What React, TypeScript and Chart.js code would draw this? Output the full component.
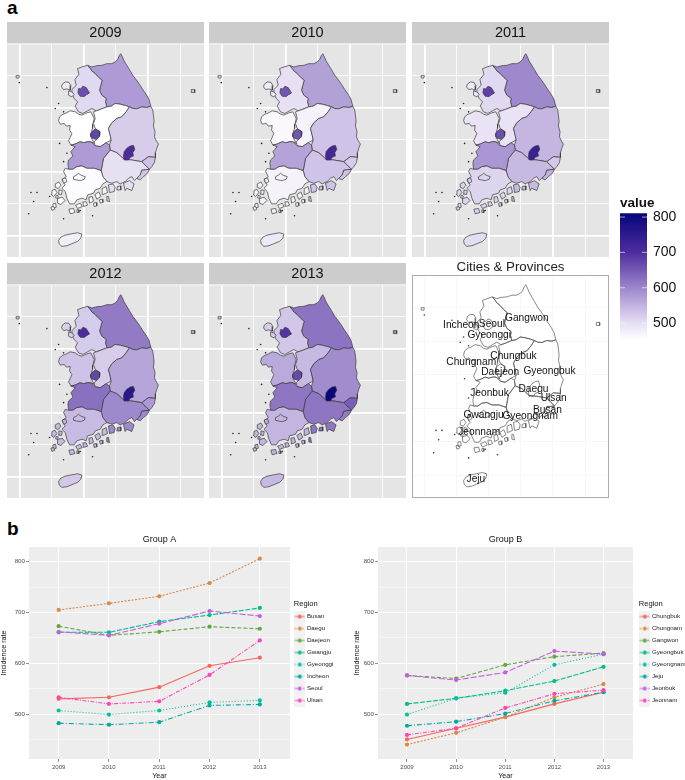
import React, { useEffect, useRef } from "react";
import { Chart, registerables } from "chart.js";
Chart.register(...registerables);

const FONT = '"Liberation Sans", Arial, sans-serif';

/* ---------- values ---------- */
const years = [2009, 2010, 2011, 2012, 2013];

const busan = [530, 533, 553, 595, 611];
const daegu = [705, 718, 732, 758, 806];
const daejeon = [673, 655, 662, 672, 668];
const gwangju = [661, 661, 682, 695, 709];
const gyeonggi = [507, 499, 507, 523, 527];
const incheon = [482, 479, 484, 517, 519];
const seoul = [662, 655, 678, 703, 693];
const ulsan = [533, 520, 525, 577, 645];

const chungbuk = [450, 472, 494, 520, 543];
const chungnam = [440, 463, 494, 533, 559];
const gangwon = [576, 570, 597, 613, 620];
const gyeongbuk = [520, 531, 546, 565, 593];
const gyeongnam = [499, 531, 542, 597, 618];
const jeju = [477, 485, 501, 526, 543];
const jeonbuk = [576, 567, 582, 624, 618];
const jeonnam = [459, 472, 512, 540, 547];

const groupANames = ["Busan", "Daegu", "Daejeon", "Gwangju", "Gyeonggi", "Incheon", "Seoul", "Ulsan"];
const groupAValues = [busan, daegu, daejeon, gwangju, gyeonggi, incheon, seoul, ulsan];
const groupBNames = ["Chungbuk", "Chungnam", "Gangwon", "Gyeongbuk", "Gyeongnam", "Jeju", "Jeonbuk", "Jeonnam"];
const groupBValues = [chungbuk, chungnam, gangwon, gyeongbuk, gyeongnam, jeju, jeonbuk, jeonnam];

const seriesColors = ["#F8665D", "#D8894A", "#62A83F", "#00BD8A", "#00C2A0", "#00AB9C", "#C45FE0", "#FF45B5"];
const seriesDashes = [[], [2, 1.5], [4, 2], [5, 1.5], [1, 2], [5, 2, 1, 2], [6, 2], [4, 1.5, 1, 1.5]];

const colorStops: [number, number[]][] = [
  [453, [255, 255, 255]],
  [500, [230, 223, 243]],
  [600, [156, 134, 203]],
  [700, [78, 45, 159]],
  [811, [5, 5, 122]],
];

/* ---------- map outlines, in map units ---------- */
type P = number[][];
const gangwonShape: P = [[262,195],[275,200],[290,196],[305,195],[320,190],[335,190],[345,185],[352,178],[358,165],[362,160],[367,170],[372,182],[380,195],[388,208],[398,225],[408,238],[418,252],[428,268],[438,282],[447,298],[452,318],[440,322],[425,320],[410,326],[398,325],[388,320],[375,316],[360,312],[345,310],[333,318],[320,320],[316,305],[318,295],[305,285],[298,270],[302,255],[306,240],[296,232],[285,220],[275,212],[270,205]];
const gyeonggiShape: P = [[232,205],[245,200],[262,195],[270,205],[275,212],[285,220],[296,232],[306,240],[302,255],[298,270],[305,285],[318,295],[316,305],[320,320],[300,328],[288,332],[275,325],[262,332],[248,340],[235,335],[225,318],[232,305],[222,295],[216,282],[215,268],[228,255],[224,238],[236,222]];
const incheonShapeA: P = [[186,252],[195,245],[206,246],[212,256],[210,270],[200,266],[190,268],[184,260]];
const incheonShapeB: P = [[205,272],[214,275],[222,282],[215,290],[205,285]];
const incheonShapeC: P = [[47,226],[57,226],[56,233],[48,233]];
const seoulShape: P = [[235,265],[242,266],[248,258],[258,262],[263,270],[268,278],[258,284],[252,289],[240,288],[233,278]];
const chungnamShape: P = [[195,340],[210,332],[225,335],[235,342],[245,345],[260,338],[272,335],[282,355],[278,372],[277,385],[272,400],[272,410],[282,430],[272,425],[262,425],[250,428],[240,425],[225,432],[212,435],[205,422],[210,412],[215,400],[208,390],[210,376],[198,378],[192,370],[180,372],[175,362],[178,350],[188,342]];
const chungbukShape: P = [[280,335],[288,332],[300,328],[320,320],[333,318],[345,310],[360,312],[375,316],[388,320],[378,335],[365,350],[350,355],[335,368],[325,385],[330,405],[333,420],[318,428],[300,440],[285,437],[282,425],[298,410],[300,395],[285,385],[280,370],[285,355]];
const daejeonShape: P = [[275,395],[285,387],[297,393],[298,408],[288,418],[275,414],[272,404]];
const gyeongbukShape: P = [[388,320],[398,325],[410,326],[425,320],[440,322],[452,318],[458,330],[460,345],[462,362],[460,378],[465,395],[463,410],[470,425],[475,432],[470,445],[466,458],[466,472],[445,470],[425,485],[395,480],[372,478],[350,458],[330,450],[328,435],[333,420],[330,405],[325,385],[335,368],[350,355],[365,350],[378,335]];
const gyeongbukIsle: P = [[574,268],[584,268],[584,277],[575,277]];
const daeguShape: P = [[372,455],[380,445],[390,438],[400,436],[404,448],[398,458],[400,468],[390,472],[385,480],[372,480],[370,468]];
const ulsanShape: P = [[445,470],[466,472],[463,488],[455,500],[448,508],[435,495],[425,485]];
const busanShape: P = [[448,508],[442,520],[430,530],[420,540],[410,535],[420,525],[425,510]];
const gyeongnamShape: P = [[330,450],[350,458],[372,478],[395,480],[425,485],[448,508],[425,510],[420,525],[410,535],[403,542],[395,530],[385,535],[375,545],[360,552],[350,545],[335,550],[320,545],[308,530],[303,512],[310,475]];
const gyeongnamIsleA: P = [[325,555],[338,552],[345,562],[342,575],[328,578]];
const gyeongnamIsleB: P = [[370,550],[388,542],[402,552],[395,572],[380,565],[375,572]];
const gyeongnamIsleC: P = [[352,560],[362,558],[362,570],[350,570]];
const gyeongnamIsleD: P = [[320,590],[325,590],[328,605],[320,603]];
const jeonbukShape: P = [[240,425],[250,428],[262,425],[272,425],[285,437],[300,440],[318,428],[328,435],[330,450],[310,475],[303,512],[282,505],[260,505],[245,498],[230,500],[218,508],[205,508],[203,490],[205,480],[218,468],[212,455],[225,440],[212,435],[225,432]];
const jeonnamShape: P = [[195,505],[205,508],[218,508],[230,500],[245,498],[260,505],[282,505],[303,512],[308,530],[320,545],[308,552],[300,565],[285,570],[280,580],[262,585],[258,600],[245,595],[230,600],[222,612],[208,612],[200,595],[195,575],[185,565],[195,555],[185,540],[198,530],[190,515]];
const jeonnamIsles: P[] = [
  [[186,537],[196,534],[200,545],[190,550]],
  [[165,552],[176,546],[182,556],[174,566],[165,562]],
  [[155,572],[164,568],[170,578],[160,590],[153,584]],
  [[172,596],[186,592],[194,602],[182,614],[172,610]],
  [[158,612],[166,610],[168,622],[158,624]],
  [[176,570],[186,572],[184,584],[174,582]],
  [[168,586],[174,588],[172,596],[166,594]],
  [[152,622],[160,620],[164,628],[155,632]],
  [[206,628],[220,626],[224,638],[210,642]],
  [[226,616],[240,610],[246,620],[232,626]],
  [[248,606],[258,606],[262,616],[250,620]],
  [[266,592],[276,590],[280,604],[268,610]],
  [[284,584],[296,576],[302,590],[290,598]],
  [[306,566],[318,560],[322,578],[308,584]],
  [[280,610],[288,608],[290,618],[282,620]],
  [[298,600],[306,598],[308,608],[300,610]],
  [[230,630],[236,630],[236,638],[230,638]],
];
const gwangjuShape: P = [[220,530],[228,526],[235,520],[243,526],[255,530],[252,538],[240,542],[228,540],[220,538]];
const jejuShape: P = [[175,722],[182,712],[195,706],[215,702],[232,699],[245,703],[242,715],[232,725],[215,732],[200,738],[185,740],[177,733]];
const tinyIslands: P = [[140,262],[57,247],[92,578],[110,578],[100,605],[85,642],[190,657],[277,648],[240,632],[165,325],[175,310],[190,335],[178,430],[190,485],[200,460],[148,590]];

/* the Gwangju enclave takes the tone of the surrounding Jeonnam, as it does in the source map */
const regionShapes: [P, number[]][] = [
  [gangwonShape, gangwon],
  [gyeonggiShape, gyeonggi],
  [incheonShapeA, incheon],
  [incheonShapeB, incheon],
  [incheonShapeC, incheon],
  [seoulShape, seoul],
  [chungnamShape, chungnam],
  [chungbukShape, chungbuk],
  [daejeonShape, daejeon],
  [gyeongbukShape, gyeongbuk],
  [gyeongbukIsle, gyeongbuk],
  [ulsanShape, ulsan],
  [busanShape, busan],
  [gyeongnamShape, gyeongnam],
  [gyeongnamIsleA, gyeongnam],
  [gyeongnamIsleB, gyeongnam],
  [gyeongnamIsleC, gyeongnam],
  [gyeongnamIsleD, gyeongnam],
  [daeguShape, daegu],
  [jeonbukShape, jeonbuk],
  [jeonnamShape, jeonnam],
  ...jeonnamIsles.map((s): [P, number[]] => [s, jeonnam]),
  [gwangjuShape, jeonnam],
  [jejuShape, jeju],
];

const cityLabels: [string, number, number][] = [
  ["Gangwon", 365, 256], ["Incheon", 168, 276], ["Seoul", 260, 274], ["Gyeonggi", 252, 305],
  ["Chungbuk", 325, 366], ["Chungnam", 198, 383], ["Daejeon", 285, 411], ["Gyeongbuk", 433, 407],
  ["Jeonbuk", 253, 471], ["Daegu", 385, 460], ["Ulsan", 446, 486], ["Busan", 427, 521],
  ["Gyeongnam", 375, 538], ["Gwangju", 235, 533], ["Jeonnam", 222, 583], ["Jeju", 212, 718],
];

const gridX = [58, 155, 251, 347, 443, 540];
const gridY = [226, 322, 418, 515, 611, 708];
const majorX = [58, 251, 443];
const majorY = [322, 515, 708];

/* ---------- helpers ---------- */
function fillFor(v: number): string {
  for (let i = 0; i < colorStops.length - 1; i++) {
    const [a, ca] = colorStops[i];
    const [b, cb] = colorStops[i + 1];
    if (v <= b) {
      const t = Math.max(0, (v - a) / (b - a));
      const c = ca.map((x, k) => Math.round(x + (cb[k] - x) * t));
      return `rgb(${c[0]},${c[1]},${c[2]})`;
    }
  }
  return "rgb(5,5,122)";
}
const toPoints = (s: P) => [...s, s[0]].map(([x, y]) => ({ x, y }));

function mapScales(gridColor: (v: number, horizontal: boolean) => string, gridWidth: (v: number, horizontal: boolean) => number) {
  const axis = (min: number, max: number, list: number[], horizontal: boolean, reverse: boolean) => ({
    type: "linear",
    min,
    max,
    reverse,
    afterBuildTicks: (s: any) => { s.ticks = list.map((value) => ({ value })); },
    ticks: { display: false, autoSkip: false },
    border: { display: false },
    grid: {
      drawTicks: false,
      color: (c: any) => gridColor(c.tick.value, horizontal),
      lineWidth: (c: any) => gridWidth(c.tick.value, horizontal),
    },
  });
  return { x: axis(20, 612, gridX, false, false), y: axis(132, 772, gridY, true, true) };
}

function yearMapConfig(yearIndex: number) {
  const datasets: any[] = regionShapes.map(([shape, vals]) => ({
    data: toPoints(shape),
    showLine: true,
    fill: "shape",
    tension: 0,
    pointRadius: 0,
    borderWidth: 0.7,
    borderColor: "#3a3a3a",
    backgroundColor: fillFor(vals[yearIndex]),
  }));
  datasets.push({
    data: tinyIslands.map(([x, y]) => ({ x, y })),
    showLine: false,
    pointRadius: 0.8,
    borderWidth: 0,
    backgroundColor: "#222",
  });
  datasets.reverse();
  return {
    type: "scatter",
    data: { datasets },
    options: {
      responsive: false,
      maintainAspectRatio: false,
      animation: false,
      events: [],
      layout: { padding: 0, autoPadding: false },
      plugins: {
        legend: { display: false },
        tooltip: { enabled: false },
        title: {
          display: true,
          text: String(years[yearIndex]),
          color: "#111",
          font: { family: FONT, size: 14.5, weight: "normal", lineHeight: 1.2 },
          padding: { top: 2, bottom: 3 },
        },
      },
      scales: mapScales(() => "#ffffff", (v, h) => ((h ? majorY : majorX).includes(v) ? 1.8 : 0.8)),
    },
    plugins: [
      {
        id: "panelBackground",
        beforeDraw(chart: any) {
          const { ctx, chartArea: a } = chart;
          ctx.save();
          ctx.fillStyle = "#CCCCCC";
          ctx.fillRect(0, 0, chart.width, a.top - 1);
          ctx.fillStyle = "#E5E5E5";
          ctx.fillRect(a.left, a.top, a.right - a.left, a.bottom - a.top);
          ctx.restore();
        },
      },
    ],
  };
}

function citiesConfig() {
  const datasets: any[] = regionShapes.map(([shape]) => ({
    data: toPoints(shape),
    showLine: true,
    fill: false,
    tension: 0,
    pointRadius: 0,
    borderWidth: 0.7,
    borderColor: "#555",
  }));
  datasets.push({
    data: tinyIslands.map(([x, y]) => ({ x, y })),
    showLine: false,
    pointRadius: 0.8,
    borderWidth: 0,
    backgroundColor: "#333",
  });
  return {
    type: "scatter",
    data: { datasets },
    options: {
      responsive: false,
      maintainAspectRatio: false,
      animation: false,
      events: [],
      layout: { padding: 0, autoPadding: false },
      plugins: {
        legend: { display: false },
        tooltip: { enabled: false },
        title: {
          display: true,
          text: "Cities & Provinces",
          color: "#222",
          font: { family: FONT, size: 13.3, weight: "normal", lineHeight: 1.2 },
          padding: { top: 1, bottom: 0 },
        },
      },
      scales: mapScales(() => "#F3F3F3", () => 0.7),
    },
    plugins: [
      {
        id: "cityText",
        afterDraw(chart: any) {
          const { ctx, chartArea: a, scales } = chart;
          ctx.save();
          ctx.strokeStyle = "#ABABAB";
          ctx.lineWidth = 1;
          ctx.strokeRect(a.left + 0.5, a.top + 0.5, a.right - a.left - 1, a.bottom - a.top - 1);
          ctx.fillStyle = "#111";
          ctx.font = `10.2px ${FONT}`;
          ctx.textAlign = "center";
          ctx.textBaseline = "middle";
          for (const [name, x, y] of cityLabels) {
            ctx.fillText(name, scales.x.getPixelForValue(x), scales.y.getPixelForValue(y));
          }
          ctx.restore();
        },
      },
    ],
  };
}

function legendKey(color: string, dash: number[]) {
  const c = document.createElement("canvas");
  c.width = 11;
  c.height = 12;
  const g = c.getContext("2d")!;
  g.fillStyle = "#F2F2F2";
  g.fillRect(0, 0, 11, 12);
  g.strokeStyle = color;
  g.lineWidth = 1;
  g.setLineDash(dash);
  g.beginPath();
  g.moveTo(0.5, 6);
  g.lineTo(10.5, 6);
  g.stroke();
  g.fillStyle = color;
  g.beginPath();
  g.arc(5.5, 6, 1.9, 0, Math.PI * 2);
  g.fill();
  return c;
}

function lineConfig(title: string, names: string[], values: number[][], axisWidth: number, legendWidth: number, legendShift: number) {
  const minorY = [450, 550, 650, 750];
  return {
    type: "line",
    data: {
      datasets: names.map((label, i) => ({
        label,
        order: names.length - i,
        data: years.map((x, k) => ({ x, y: values[i][k] })),
        borderColor: seriesColors[i],
        backgroundColor: seriesColors[i],
        borderWidth: 1.1,
        borderDash: seriesDashes[i],
        pointRadius: 2.1,
        pointBorderWidth: 0,
        tension: 0,
      })),
    },
    options: {
      responsive: false,
      maintainAspectRatio: false,
      animation: false,
      events: [],
      layout: { padding: 0, autoPadding: false },
      plugins: {
        tooltip: { enabled: false },
        title: {
          display: true,
          text: title,
          fullSize: false,
          color: "#111",
          font: { family: FONT, size: 9, weight: "normal", lineHeight: 1.2 },
          padding: { top: 3.8, bottom: 2.4 },
        },
        legend: {
          position: "right",
          align: "center",
          title: {
            display: true,
            text: "Region",
            position: "start",
            color: "#111",
            font: { family: FONT, size: 7.6 },
            padding: { top: 0, bottom: -2 },
          },
          labels: {
            usePointStyle: true,
            pointStyleWidth: 8,
            padding: 5.8,
            color: "#222",
            font: { family: FONT, size: 6.2 },
            generateLabels: () =>
              names.map((text, i) => ({
                text,
                datasetIndex: i,
                fontColor: "#222",
                pointStyle: legendKey(seriesColors[i], seriesDashes[i]),
                lineWidth: 0,
              })),
          },
        },
      },
      scales: {
        x: {
          type: "linear",
          min: 2008.41,
          max: 2013.6,
          afterBuildTicks: (s: any) => { s.ticks = years.map((value) => ({ value })); },
          afterFit: (s: any) => { s.height = 21; },
          ticks: { autoSkip: false, maxRotation: 0, color: "#4D4D4D", padding: 1.5, font: { family: FONT, size: 6 }, callback: (v: any) => String(v) },
          title: { display: true, text: "Year", color: "#111", padding: 0, font: { family: FONT, size: 7.2, lineHeight: 1.1 } },
          border: { display: false },
          grid: { color: "#ffffff", lineWidth: 1, tickLength: 3, tickColor: "#444", tickWidth: 0.6 },
        },
        y: {
          type: "linear",
          min: 411.5,
          max: 829,
          afterBuildTicks: (s: any) => { s.ticks = [450, 500, 550, 600, 650, 700, 750, 800].map((value) => ({ value })); },
          afterFit: (s: any) => { s.width = axisWidth; },
          ticks: {
            autoSkip: false,
            color: "#4D4D4D",
            padding: 1,
            font: { family: FONT, size: 6.2 },
            callback: (v: any) => (minorY.includes(v) ? "" : String(v)),
          },
          title: { display: true, text: "Incidence rate", color: "#111", padding: 0, font: { family: FONT, size: 7.2, lineHeight: 1.1 } },
          border: { display: false },
          grid: {
            color: "#ffffff",
            tickLength: 3,
            lineWidth: (c: any) => (minorY.includes(c.tick.value) ? 0.5 : 1),
            tickColor: (c: any) => (minorY.includes(c.tick.value) ? "rgba(0,0,0,0)" : "#444"),
            tickWidth: 0.6,
          },
        },
      },
    },
    plugins: [
      {
        id: "panelAndLegendFit",
        beforeLayout(chart: any) {
          const legend = chart.legend;
          if (legend && !legend.__fixedFit) {
            const baseFit = legend.fit;
            legend.fit = function () {
              baseFit.call(this);
              this.width = legendWidth;
            };
            const baseDraw = legend.draw;
            legend.draw = function () {
              chart.ctx.save();
              chart.ctx.translate(legendShift, 0);
              baseDraw.call(this);
              chart.ctx.restore();
            };
            const baseTitle = legend.drawTitle;
            legend.drawTitle = function () {
              chart.ctx.save();
              chart.ctx.translate(3.7, 0);
              baseTitle.call(this);
              chart.ctx.restore();
            };
            legend.__fixedFit = true;
          }
        },
        beforeDraw(chart: any) {
          const { ctx, chartArea: a } = chart;
          ctx.save();
          ctx.fillStyle = "#EDEDED";
          ctx.fillRect(a.left, a.top, a.right - a.left, a.bottom - a.top);
          ctx.restore();
        },
      },
    ],
  };
}

function colorbarConfig() {
  const tickValues = [500, 600, 700, 800];
  return {
    type: "bar",
    data: {
      labels: ["value"],
      datasets: [
        {
          data: [[453, 811]],
          barPercentage: 1,
          categoryPercentage: 1,
          borderWidth: 0,
          backgroundColor: (c: any) => {
            const { chart } = c;
            const y = chart.scales?.y;
            if (!chart.chartArea || !y) return "#9C86CB";
            const g = chart.ctx.createLinearGradient(0, y.getPixelForValue(453), 0, y.getPixelForValue(811));
            for (const [v, col] of colorStops) {
              g.addColorStop((v - 453) / (811 - 453), `rgb(${col[0]},${col[1]},${col[2]})`);
            }
            return g;
          },
        },
      ],
    },
    options: {
      responsive: false,
      maintainAspectRatio: false,
      animation: false,
      events: [],
      layout: { padding: 0, autoPadding: false },
      plugins: {
        legend: { display: false },
        tooltip: { enabled: false },
        title: {
          display: true,
          text: "value",
          align: "start",
          color: "#111",
          font: { family: FONT, size: 13.5, weight: "bold", lineHeight: 1.2 },
          padding: { top: 0, bottom: 2 },
        },
      },
      scales: {
        x: { display: false },
        y: {
          position: "right",
          min: 453,
          max: 811,
          afterBuildTicks: (s: any) => { s.ticks = tickValues.map((value) => ({ value })); },
          afterFit: (s: any) => { s.width = 38; },
          ticks: { autoSkip: false, color: "#111", padding: 6, font: { family: FONT, size: 14 }, callback: (v: any) => String(v) },
          border: { display: false },
          grid: { display: false, drawTicks: false },
        },
      },
    },
    plugins: [
      {
        id: "barTicks",
        afterDatasetsDraw(chart: any) {
          const { ctx, chartArea: a, scales } = chart;
          ctx.save();
          ctx.strokeStyle = "rgba(255,255,255,0.75)";
          ctx.lineWidth = 0.8;
          for (const v of tickValues) {
            const y = scales.y.getPixelForValue(v);
            ctx.beginPath();
            ctx.moveTo(a.left, y);
            ctx.lineTo(a.left + 5, y);
            ctx.moveTo(a.right - 5, y);
            ctx.lineTo(a.right, y);
            ctx.stroke();
          }
          ctx.restore();
        },
      },
    ],
  };
}

function Plot({ left, top, width, height, make }: { left: number; top: number; width: number; height: number; make: () => any }) {
  const ref = useRef<HTMLCanvasElement>(null);
  useEffect(() => {
    const chart = new Chart(ref.current!, make());
    return () => chart.destroy();
  }, []);
  return <canvas ref={ref} width={width} height={height} style={{ position: "absolute", left, top, width, height, display: "block" }} />;
}

const panelSpots: [number, number, number][] = [
  [0, 7, 22], [1, 209, 22], [2, 412, 22], [3, 7, 263], [4, 209, 263],
];

const letterStyle: React.CSSProperties = { position: "absolute", font: `bold 19px ${FONT}`, color: "#000", lineHeight: "19px" };

export default function App() {
  return (
    <div style={{ position: "absolute", left: 0, top: 0, width: 685, height: 780, overflow: "hidden", background: "#fff" }}>
      <div style={{ ...letterStyle, left: 7, top: -2 }}>a</div>
      <div style={{ ...letterStyle, left: 7, top: 519 }}>b</div>
      {panelSpots.map(([i, left, top]) => (
        <Plot key={i} left={left} top={top} width={197} height={235} make={() => yearMapConfig(i)} />
      ))}
      <Plot left={412} top={258} width={197} height={240} make={citiesConfig} />
      <Plot left={620} top={195} width={65} height={159} make={colorbarConfig} />
      <Plot left={0} top={530} width={345} height={250} make={() => lineConfig("Group A", groupANames, groupAValues, 29, 55, 0)} />
      <Plot left={353} top={530} width={332} height={250} make={() => lineConfig("Group B", groupBNames, groupBValues, 25, 52, 2)} />
    </div>
  );
}
